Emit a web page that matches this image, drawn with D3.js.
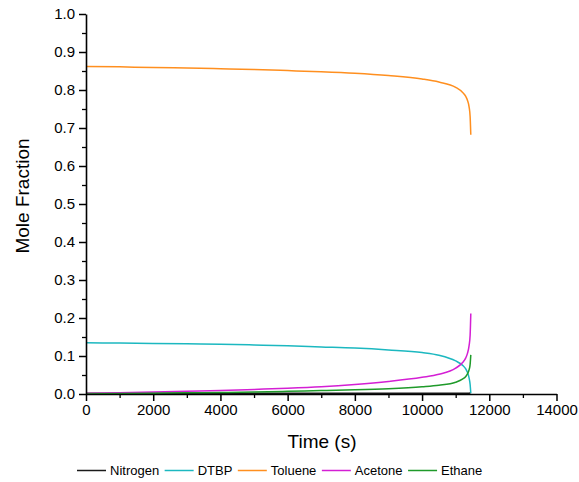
<!DOCTYPE html>
<html>
<head>
<meta charset="utf-8">
<script src="https://cdn.jsdelivr.net/npm/d3@7"></script>
<style>
  body { margin: 0; background: #fff; }
  svg { font-family: Arial, "Liberation Sans", sans-serif; }
  .axis path, .axis line { stroke: #000; }
  .axis text { font-size: 15px; fill: #000; }
</style>
</head>
<body>
<div id="chart"></div>
<script>
// sampled time points (s)
const time = [0, 1000, 2000, 3000, 4000, 5000, 6000, 7000, 8000, 9000, 10000,
  10500, 11000, 11200, 11300, 11350, 11400, 11430, 11450];

const nitrogen = [0.002, 0.002, 0.002, 0.002, 0.002, 0.002, 0.002, 0.002, 0.002, 0.002, 0.002,
  0.002, 0.002, 0.002, 0.002, 0.002, 0.002, 0.003, 0.003];
const dtbp = [0.135, 0.134, 0.133, 0.132, 0.131, 0.129, 0.127, 0.124, 0.121, 0.116, 0.109,
  0.102, 0.087, 0.076, 0.066, 0.057, 0.042, 0.025, 0.002];
const toluene = [0.862, 0.861, 0.859, 0.858, 0.856, 0.854, 0.851, 0.848, 0.844, 0.838, 0.829,
  0.821, 0.807, 0.794, 0.783, 0.773, 0.755, 0.730, 0.682];
const acetone = [0.001, 0.003, 0.005, 0.007, 0.009, 0.012, 0.015, 0.019, 0.025, 0.033, 0.044,
  0.052, 0.068, 0.082, 0.095, 0.107, 0.128, 0.155, 0.212];
const ethane = [0.000, 0.001, 0.002, 0.003, 0.004, 0.005, 0.007, 0.009, 0.011, 0.014, 0.019,
  0.023, 0.031, 0.039, 0.046, 0.053, 0.064, 0.078, 0.103];

const seriesNames = ['Nitrogen', 'DTBP', 'Toluene', 'Acetone', 'Ethane'];
const seriesValues = [nitrogen, dtbp, toluene, acetone, ethane];
const seriesColors = ['#1a1a1a', '#1cb8c0', '#ff8f1f', '#d41fd4', '#1f9a2a'];

const xTicks = [0, 2000, 4000, 6000, 8000, 10000, 12000, 14000];
const xMinor = [1000, 3000, 5000, 7000, 9000, 11000, 13000];
const yTicks = [0, 0.1, 0.2, 0.3, 0.4, 0.5, 0.6, 0.7, 0.8, 0.9, 1.0];
const yMinor = [0.05, 0.15, 0.25, 0.35, 0.45, 0.55, 0.65, 0.75, 0.85, 0.95];

const canvasWidth = 579;
const canvasHeight = 482;
const margins = { top: 14, right: 22.5, bottom: 88, left: 86 };
const width = canvasWidth - margins.left - margins.right;
const height = canvasHeight - margins.top - margins.bottom;

const svg = d3.select('#chart')
  .append('svg')
    .attr('width', canvasWidth)
    .attr('height', canvasHeight);

const plot = svg.append('g')
  .attr('transform', `translate(${margins.left}, ${margins.top})`);

const scaleX = d3.scaleLinear().domain([0, 14000]).range([0, width]);
const scaleY = d3.scaleLinear().domain([0, 1]).range([height, 0]);

// curves
const line = d3.line()
  .x((d, i) => scaleX(time[i]))
  .y(d => scaleY(d))
  .curve(d3.curveMonotoneX);

plot.append('g')
  .selectAll('path')
  .data(seriesValues)
  .enter()
  .append('path')
    .attr('fill', 'none')
    .attr('stroke', (d, i) => seriesColors[i])
    .attr('stroke-width', 1.5)
    .attr('d', line);

// minor ticks
plot.append('g')
  .attr('class', 'axis')
  .attr('transform', `translate(0, ${height})`)
  .call(d3.axisBottom(scaleX).tickValues(xMinor).tickSize(4).tickFormat('').tickSizeOuter(0))
  .call(g => g.select('.domain').remove())
  .selectAll('line').attr('stroke-width', 1.3);

plot.append('g')
  .attr('class', 'axis')
  .call(d3.axisLeft(scaleY).tickValues(yMinor).tickSize(4).tickFormat('').tickSizeOuter(0))
  .call(g => g.select('.domain').remove())
  .selectAll('line').attr('stroke-width', 1.3);

// major axes
const axisX = plot.append('g')
  .attr('class', 'axis')
  .attr('transform', `translate(0, ${height})`)
  .call(d3.axisBottom(scaleX).tickValues(xTicks).tickFormat(d3.format('d'))
    .tickSize(7).tickPadding(3).tickSizeOuter(0));
axisX.selectAll('line').attr('stroke-width', 1.5);
axisX.select('.domain').attr('stroke-width', 1.6);

const axisY = plot.append('g')
  .attr('class', 'axis')
  .call(d3.axisLeft(scaleY).tickValues(yTicks).tickFormat(d3.format('.1f'))
    .tickSize(7).tickPadding(4).tickSizeOuter(0));
axisY.selectAll('line').attr('stroke-width', 1.5);
axisY.select('.domain').attr('stroke-width', 1.6);

// axis titles
svg.append('text')
  .attr('x', 322)
  .attr('y', 448)
  .attr('text-anchor', 'middle')
  .style('font-size', '19px')
  .text('Time (s)');

svg.append('text')
  .attr('transform', 'translate(29, 196) rotate(-90)')
  .attr('text-anchor', 'middle')
  .style('font-size', '19px')
  .text('Mole Fraction');

// legend
const legend = svg.append('g').attr('transform', 'translate(77, 470.5)');
let offset = 0;
seriesNames.forEach((name, i) => {
  const item = legend.append('g').attr('transform', `translate(${offset}, 0)`);
  item.append('line')
    .attr('x1', 0).attr('x2', 29)
    .attr('stroke', seriesColors[i])
    .attr('stroke-width', 1.5);
  const label = item.append('text')
    .attr('x', 33)
    .attr('dy', '0.35em')
    .style('font-size', '13px')
    .text(name);
  offset += 33 + label.node().getComputedTextLength() + 5.5;
});
</script>
</body>
</html>
